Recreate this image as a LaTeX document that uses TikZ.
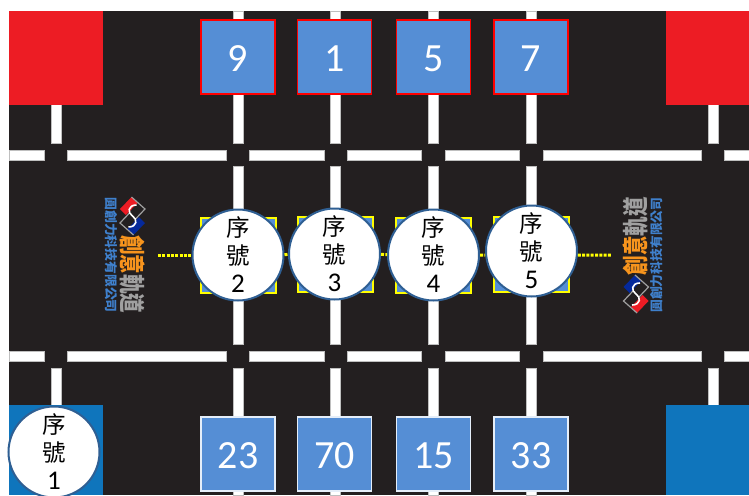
\documentclass[tikz,border=0pt]{standalone}
\usepackage{graphicx}
\usepackage{fontspec}
\setmainfont{Carlito}
\newfontfamily\cjk{Noto Sans CJK TC}
\definecolor{fieldblack}{HTML}{231F20}
\definecolor{cornerred}{HTML}{ED1C24}
\definecolor{cornerblue}{HTML}{0F75BC}
\definecolor{boxblue}{HTML}{558ED5}
\definecolor{ringblue}{HTML}{2F5F93}
\definecolor{logoorange}{HTML}{F7941D}
\definecolor{logogray}{HTML}{A0A0A0}
\definecolor{logoblue}{HTML}{3F80CC}
\definecolor{dotyellow}{HTML}{FFFF00}
\tikzset{
  x=1pt,y=-1pt,
  stripe/.style={fill=white,draw=gray!50,line width=.2pt},
  cornerbox/.style={minimum size=94pt,inner sep=0pt,outer sep=0pt},
  numbox/.style={minimum size=74pt,inner sep=0pt,fill=boxblue,line width=1.8pt,text=white,text height=28pt,text depth=0pt,font=\fontsize{40}{40}\selectfont},
  topbox/.style={numbox,draw=red},
  botbox/.style={numbox,draw=white!85!boxblue,line width=1.4pt},
  markbox/.style={minimum size=75pt,inner sep=0pt,fill=boxblue,draw=dotyellow,line width=2pt},
  robot/.style={circle,minimum size=91pt,inner sep=0pt,fill=white,draw=ringblue,line width=2pt,align=center,font=\fontsize{23.5}{28}\selectfont},
  dotline/.style={draw=dotyellow,line width=3pt,dash pattern=on 3pt off 1.3pt},
  logotitle/.style={inner sep=0pt,font=\cjk\bfseries\fontsize{26}{26}\selectfont},
  logosub/.style={inner sep=0pt,text=logoblue,font=\cjk\bfseries\fontsize{12.8}{12.8}\selectfont},
  logomark/.pic={
    \fill[cornerred] (-12.5,-7)--(-1,-19)--(5,-13)--(-6.5,-1)--cycle;
    \fill[cornerblue!50!blue!70!black] (12.5,7)--(1,19)--(-5,13)--(6.5,1)--cycle;
    \draw[logogray,line width=1.2pt,line join=miter] (-1,-19)--(12.5,-7)--(3,3);
    \draw[logogray,line width=1.2pt,line join=miter] (1,19)--(-12.5,7)--(-3,-3);
    \draw[white,line width=1.6pt] (4,-11) .. controls (-5,-11) and (-5,-3) .. (0,0) .. controls (5,3) and (5,11) .. (-4,11);
  }
}
\newcommand{\robottext}[1]{{\cjk 序}\\{\cjk 號}\\{\fontsize{27}{28}\selectfont #1}}
\begin{document}
\begin{tikzpicture}
\useasboundingbox (0,0) rectangle (749,495);
\fill[white] (0,0) rectangle (749,495);
\fill[fieldblack] (9,11) rectangle (749,495);
% horizontal stripes
\foreach \yy in {150,351}{
  \foreach \xa/\xb in {9/44,67/226,249/324,347/421,445/519,543/701,724/749}{
    \path[stripe] (\xa,\yy) rectangle (\xb,\yy+10);
  }
}
% vertical stripes
\foreach \xx in {233,330,428,526}{
  \path[stripe] (\xx,11) rectangle (\xx+10,143);
  \path[stripe] (\xx,166) rectangle (\xx+10,344);
  \path[stripe] (\xx,368) rectangle (\xx+10,495);
}
\foreach \xx in {51,708}{
  \path[stripe] (\xx,104) rectangle (\xx+10,143);
  \path[stripe] (\xx,368) rectangle (\xx+10,406);
}
% corners
\node[cornerbox,fill=cornerred,anchor=north west] (redL) at (9,11) {};
\node[cornerbox,fill=cornerred,anchor=north west,minimum width=83pt] (redR) at (666,11) {};
\node[cornerbox,fill=cornerblue,anchor=north west,minimum height=90pt] (blueL) at (9,405) {};
\node[cornerbox,fill=cornerblue,anchor=north west,minimum width=83pt,minimum height=90pt] (blueR) at (666,405) {};
% number boxes
\node[topbox] (t9) at (238,57) {9};
\node[topbox] (t1) at (334.5,57) {1};
\node[topbox] (t5) at (433.5,57) {5};
\node[topbox] (t7) at (531,57) {7};
\node[botbox] (b23) at (238,454) {23};
\node[botbox] (b70) at (334.5,454) {70};
\node[botbox] (b15) at (433.5,454) {15};
\node[botbox] (b33) at (531,454) {33};
% marks
\node[markbox] (m2) at (238,255) {};
\node[markbox] (m3) at (335,254) {};
\node[markbox] (m4) at (433.5,255) {};
\node[markbox] (m5) at (531,254) {};
% robots
\node[robot] (c2) at (238,255) {\robottext{2}};
\node[robot] (c3) at (334.5,254) {\robottext{3}};
\node[robot] (c4) at (433.5,255) {\robottext{4}};
\node[robot] (c5) at (531.5,251) {\robottext{5}};
\node[robot] (c1) at (54,452) {\robottext{1}};
% dotted connectors
\coordinate (dL) at (158,255);
\coordinate (dR) at (611,255);
\draw[dotline] (dL) -- (c2);
\draw[dotline] (c2) -- (c3);
\draw[dotline] (c3) -- (c4);
\draw[dotline] (c4) -- (c5.-175);
\draw[dotline] (c5.-5) -- (dR);
% logos
\pic at (132.5,216) {logomark};
\node[logotitle,rotate=-90] (ll) at (132.5,274) {\scalebox{.75}[1]{\textcolor{logoorange}{創意}\textcolor{logogray}{軌道}}};
\node[logosub,rotate=-90] (ls) at (111,255) {圓創力科技有限公司};
\pic[rotate=180] at (636,294) {logomark};
\node[logotitle,rotate=90] (rl) at (636,236) {\scalebox{.75}[1]{\textcolor{logoorange}{創意}\textcolor{logogray}{軌道}}};
\node[logosub,rotate=90] (rs) at (657,255) {圓創力科技有限公司};
\end{tikzpicture}
\end{document}
